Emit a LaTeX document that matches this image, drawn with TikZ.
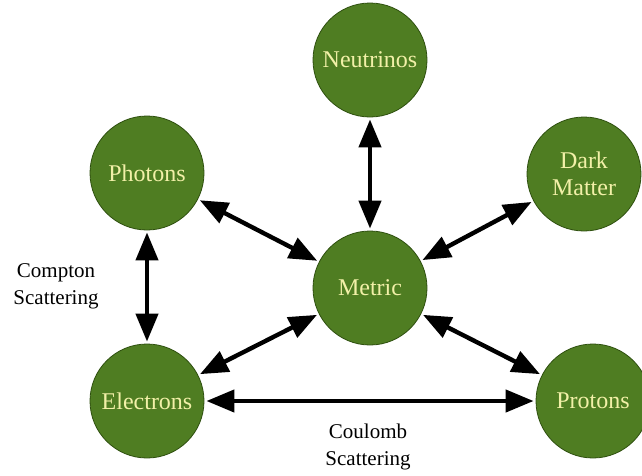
\documentclass[tikz,border=0pt]{standalone}
\usepackage{fontspec}
\setmainfont{Liberation Serif}[Ligatures=TeX]
\usetikzlibrary{arrows.meta}
\definecolor{nodegreen}{HTML}{4F7D22}
\definecolor{edgegreen}{HTML}{2F5010}
\definecolor{nodetext}{HTML}{F2F0A8}
\begin{document}
\begin{tikzpicture}[x=1pt,y=-1pt,
  particle/.style={circle,fill=nodegreen,draw=edgegreen,line width=0.8pt,minimum size=114pt,inner sep=0pt,
    text=nodetext,font=\rmfamily\fontsize{24}{27}\selectfont,align=center},
  tip/.tip={Triangle[length=28pt 0 0,width=22pt 0 0]},
  link/.style={line width=4.4pt,tip-tip,shorten <=2pt,shorten >=2pt},
  lbl/.style={font=\rmfamily\fontsize{21}{27}\selectfont,align=center,text=black}]
\useasboundingbox (0,0) rectangle (642,475);
\node[particle] (neu) at (370,60) {Neutrinos};
\node[particle] (pho) at (147,173) {Photons};
\node[particle] (dm) at (584,174) {Dark\\Matter};
\node[particle] (met) at (370,288) {Metric};
\node[particle] (ele) at (147,401) {Electrons};
\node[particle] (pro) at (593,401) {Protons};
\draw[link] (neu) -- (met);
\draw[link] (pho) -- (met);
\draw[link] (dm) -- (met);
\draw[link] (ele) -- (met);
\draw[link] (pro) -- (met);
\draw[link] (pho) -- (ele);
\draw[link] (ele) -- (pro);
\node[lbl] (compton) at (56,286) {Compton\\Scattering};
\node[lbl] (coulomb) at (368,447) {Coulomb\\Scattering};
\end{tikzpicture}
\end{document}
